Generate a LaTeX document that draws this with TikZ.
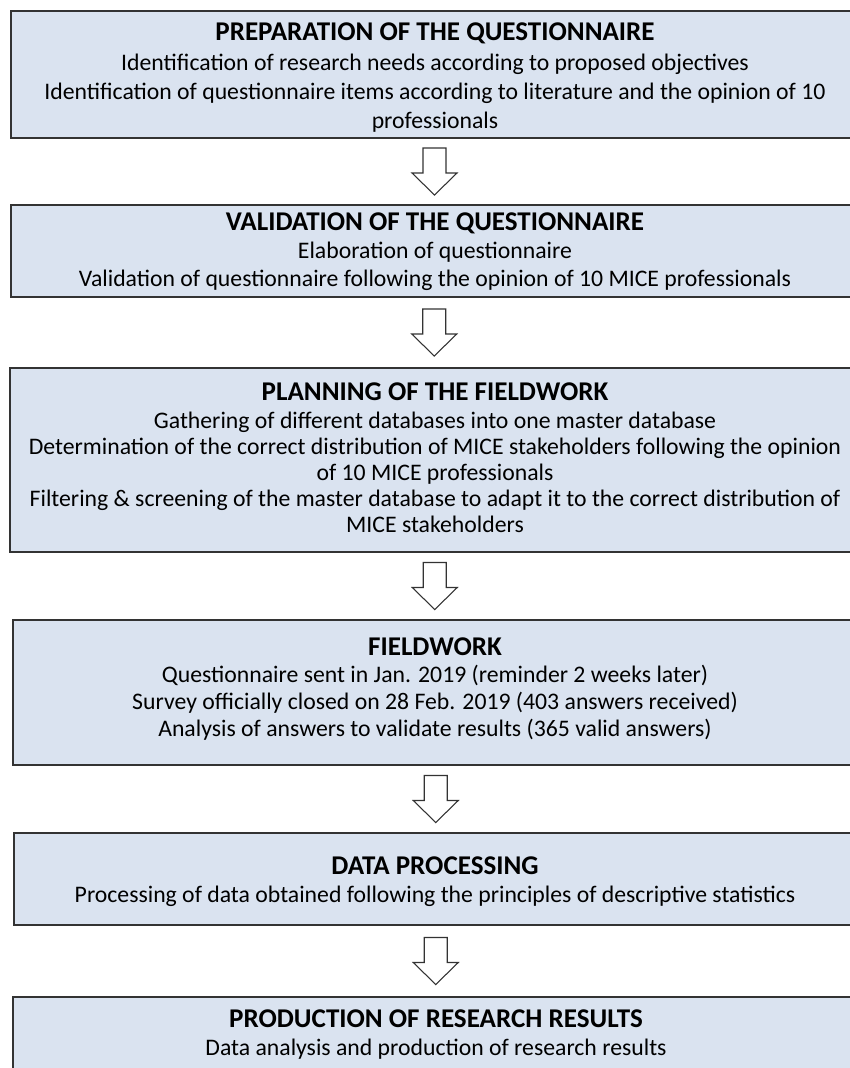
\documentclass[tikz,border=0pt]{standalone}
\usepackage{fontspec}
\setmainfont{Carlito}
\usetikzlibrary{calc}

\definecolor{boxfill}{HTML}{DAE3F0}
\definecolor{boxline}{HTML}{333333}

\newcommand\stagetitle[1]{{\fontsize{20.3pt}{22pt}\selectfont\bfseries #1}}

\tikzset{
  stage/.style={draw=boxline, line width=1.5pt, fill=boxfill, inner sep=0pt},
  stagetext/.style={inner sep=0pt, align=center, anchor=north,
    font=\fontsize{17.8pt}{#1}\selectfont},
  flowarrow/.style={draw=boxline, line width=0.8pt, fill=white, line join=miter}
}

% hollow block arrow centred between two stacked stages
\newcommand\blockarrow[2]{%
  \coordinate (m) at ($(#1.south)!0.5!(#2.north)$);
  \draw[flowarrow] ($(m)+(-11.5,-23.5)$) -- ($(m)+(11.5,-23.5)$)
    -- ($(m)+(11.5,1.5)$) -- ($(m)+(22.5,1.5)$) -- ($(m)+(0,23.5)$)
    -- ($(m)+(-22.5,1.5)$) -- ($(m)+(-11.5,1.5)$) -- cycle;}

\begin{document}
\begin{tikzpicture}[x=0.75pt, y=-0.75pt]
\useasboundingbox (0,0) rectangle (850,1068);
\clip (0,0) rectangle (850,1068);

% stage frames
\node[stage, minimum width=847*0.75pt, minimum height=127*0.75pt] (s1) at (434.5,74.5) {};
\node[stage, minimum width=847*0.75pt, minimum height=92*0.75pt]  (s2) at (434.5,251) {};
\node[stage, minimum width=848*0.75pt, minimum height=184*0.75pt] (s3) at (434,460) {};
\node[stage, minimum width=845*0.75pt, minimum height=145*0.75pt] (s4) at (435.5,692.5) {};
\node[stage, minimum width=844*0.75pt, minimum height=92*0.75pt]  (s5) at (436,879) {};
\node[stage, minimum width=845*0.75pt, minimum height=92*0.75pt]  (s6) at (435.5,1043) {};

% stage contents
\node[stagetext=21.75pt] (t1) at (435,22.6) {%
  \stagetitle{PREPARATION OF THE QUESTIONNAIRE}\\[0.75pt]
  Identification of research needs according to proposed objectives\\
  Identification of questionnaire items according to literature and the opinion of 10\\
  professionals};

\node[stagetext=21pt] (t2) at (435,212.6) {%
  \stagetitle{VALIDATION OF THE QUESTIONNAIRE}\\
  Elaboration of questionnaire\\
  Validation of questionnaire following the opinion of 10 MICE professionals};

\node[stagetext=19.5pt] (t3) at (435,382.6) {%
  \stagetitle{PLANNING OF THE FIELDWORK}\\[1.5pt]
  Gathering of different databases into one master database\\
  Determination of the correct distribution of MICE stakeholders following the opinion\\
  of 10 MICE professionals\\
  Filtering \& screening of the master database to adapt it to the correct distribution of\\
  MICE stakeholders};

\node[stagetext=20.25pt] (t4) at (435,637.6) {%
  \stagetitle{FIELDWORK}\\
  Questionnaire sent in Jan. 2019 (reminder 2 weeks later)\\
  Survey officially closed on 28 Feb. 2019 (403 answers received)\\
  Analysis of answers to validate results (365 valid answers)};

\node[stagetext=21pt] (t5) at (435,856.6) {%
  \stagetitle{DATA PROCESSING}\\
  Processing of data obtained following the principles of descriptive statistics};

\node[stagetext=21pt] (t6) at (436,1009.6) {%
  \stagetitle{PRODUCTION OF RESEARCH RESULTS}\\
  Data analysis and production of research results};

% flow arrows
\blockarrow{s1}{s2}
\blockarrow{s2}{s3}
\blockarrow{s3}{s4}
\blockarrow{s4}{s5}
\blockarrow{s5}{s6}
\end{tikzpicture}
\end{document}
